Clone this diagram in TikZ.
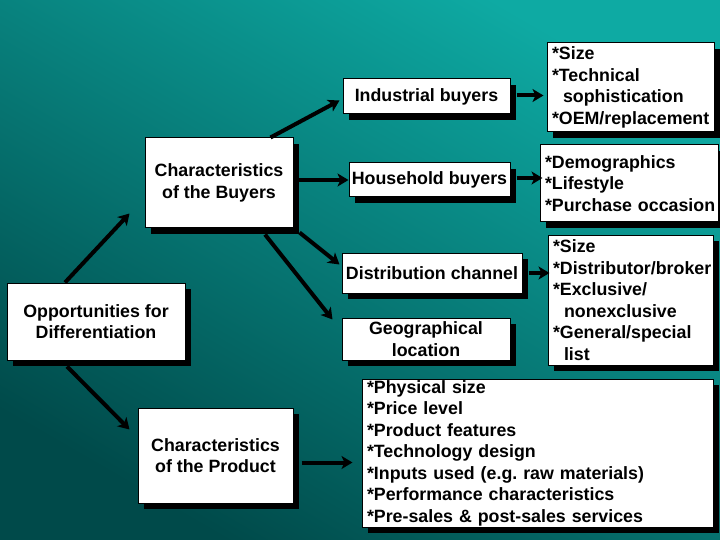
\documentclass[tikz,border=0pt]{standalone}
\usepackage{fontspec}
\setmainfont{Liberation Sans}
\usetikzlibrary{arrows.meta,calc,shadows}
\tikzset{>={Stealth[length=11pt,width=13pt,inset=3pt]}}
\definecolor{bglight}{RGB}{14,170,163}
\definecolor{bgdark}{RGB}{0,74,74}
\tikzstyle{mainbox} = [rectangle, black, draw, line width=1pt, fill=white, align=center, inner sep=0pt, drop shadow={shadow xshift=6pt, shadow yshift=-6pt, fill=black, opacity=1}]
\tikzstyle{infobox} = [rectangle, black, draw, line width=1pt, fill=white, align=left, inner xsep=5pt, inner ysep=0pt, drop shadow={shadow xshift=6pt, shadow yshift=-6pt, fill=black, opacity=1}]
\tikzstyle{arr}     = [->, black, line width=4pt]

\begin{document}
\begin{tikzpicture}[x=1pt, y=-1pt, font=\bfseries\fontsize{17.8}{21.5}\selectfont]
      \useasboundingbox (0,0) rectangle (720,540);
      \shade[top color=bglight, bottom color=bgdark, shading angle=-30] (0,0) rectangle (720,540);
      % left column
      \node[mainbox, minimum width=148pt, minimum height=90pt] (buyers) at (219,183) {Characteristics\\of the Buyers};
      \node[mainbox, minimum width=178pt, minimum height=77pt] (opp) at (96,321.5) {Opportunities for\\Differentiation};
      \node[mainbox, minimum width=155pt, minimum height=95pt] (product) at (215.5,455.5) {Characteristics\\of the Product};
      % middle column
      \node[mainbox, minimum width=167pt, minimum height=35pt] (indus) at (426.5,96.5) {Industrial buyers};
      \node[mainbox, minimum width=161pt, minimum height=34pt] (house) at (429.5,180) {Household buyers};
      \node[mainbox, minimum width=180pt, minimum height=40pt] (distr) at (432,273) {Distribution channel};
      \node[mainbox, minimum width=168pt, minimum height=42pt] (geo) at (426,339) {Geographical\\location};
      % right column
      \node[infobox, text width=157pt, minimum height=89pt] (indusinfo) at (630.5,87.5) {*Size\\{}*Technical\\\hspace*{11pt}sophistication\\{}*OEM/replacement};
      \node[infobox, text width=168pt, minimum height=77pt] (houseinfo) at (629,183.5) {*Demographics\\{}*Lifestyle\\\mbox{*Purchase occasion}};
      \node[infobox, text width=155pt, minimum height=130pt] (distrinfo) at (630.5,300) {*Size\\{}*Distributor/broker\\{}*Exclusive/\\\hspace*{11pt}nonexclusive\\{}*General/special\\\hspace*{11pt}list};
      \node[infobox, text width=341pt, minimum height=148pt] (prodinfo) at (537.5,453) {*Physical size\\{}*Price level\\{}*Product features\\{}*Technology design\\{}*Inputs used (e.g.\ raw materials)\\{}*Performance characteristics\\{}*Pre-sales \& post-sales services};
      % arrows
      \draw[arr] ($(opp.north)+(-31,0)$) -- ($(buyers.south west)+(-15,-15)$);
      \draw[arr] ($(opp.south)+(-29,6)$) -- ($(product.north west)+(-8,22)$);
      \draw[arr] ($(buyers.north east)+(-23,0)$) -- ($(indus.south west)+(-3,-14)$);
      \draw[arr] (buyers.east |- house.west) -- (house.west);
      \draw[arr] ($(buyers.south east)+(6,4)$) -- ($(distr.north west)+(-2,12)$);
      \draw[arr] ($(buyers.south)+(46,6)$) -- ($(geo.north west)+(-9,2)$);
      \draw[arr] ($(indus.east)+(6,-1)$) -- ($(indus.east -| indusinfo.west)+(-3,-1)$);
      \draw[arr] ($(house.east)+(6,-2)$) -- ($(house.east -| houseinfo.west)+(3,-2)$);
      \draw[arr] ($(distr.east)+(6,0)$) -- ($(distr.east -| distrinfo.west)+(2,0)$);
      \draw[arr] ($(product.east)+(8,7)$) -- ($(product.east -| prodinfo.west)+(-9,7)$);
\end{tikzpicture}
\end{document}
